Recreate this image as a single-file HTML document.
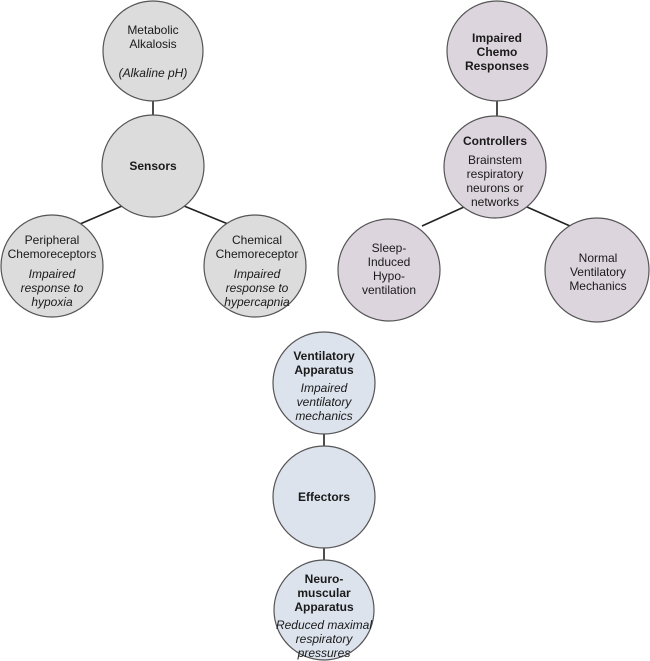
<!DOCTYPE html>
<html><head><meta charset="utf-8"><style>
html,body{margin:0;padding:0;background:#fff;}
svg{display:block;}
text{font-family:"Liberation Sans",sans-serif;font-size:12px;fill:#1a1a1a;text-anchor:middle;}
.b{font-weight:bold;}
.i{font-style:italic;}
</style></head><body>
<svg width="650" height="661" viewBox="0 0 650 661">
<g stroke="#222" stroke-width="1.6">
<line x1="153" y1="100" x2="153" y2="116"/>
<line x1="122" y1="206" x2="80" y2="224"/>
<line x1="184" y1="206" x2="228" y2="224"/>
<line x1="497" y1="100" x2="497" y2="116"/>
<line x1="464" y1="207" x2="422" y2="226"/>
<line x1="527" y1="207" x2="570" y2="226"/>
<line x1="324" y1="432" x2="324" y2="446"/>
<line x1="324" y1="547" x2="324" y2="561"/>
</g>
<g stroke="#555" stroke-width="1.2">
<circle cx="153" cy="51" r="50" fill="#dcdcdc"/>
<circle cx="153" cy="166" r="51" fill="#dcdcdc"/>
<circle cx="52" cy="266" r="51" fill="#dcdcdc"/>
<circle cx="255" cy="266" r="51" fill="#dcdcdc"/>
<circle cx="497" cy="51" r="50" fill="#ddd5de"/>
<circle cx="495" cy="167" r="51" fill="#ddd5de"/>
<circle cx="389" cy="270" r="51" fill="#ddd5de"/>
<circle cx="597" cy="270" r="52" fill="#ddd5de"/>
<circle cx="324" cy="383" r="51" fill="#dce3ed"/>
<circle cx="324" cy="497" r="51" fill="#dce3ed"/>
<circle cx="324" cy="610" r="50" fill="#dce3ed"/>
</g>
<text x="153" y="34">Metabolic</text>
<text x="153" y="48">Alkalosis</text>
<text x="153" y="77" class="i">(Alkaline pH)</text>
<text x="153" y="170" class="b">Sensors</text>
<text x="52" y="244">Peripheral</text>
<text x="52" y="258">Chemoreceptors</text>
<text x="52" y="278" class="i">Impaired</text>
<text x="52" y="292" class="i">response to</text>
<text x="52" y="306" class="i">hypoxia</text>
<text x="257" y="244">Chemical</text>
<text x="257" y="258">Chemoreceptor</text>
<text x="257" y="278" class="i">Impaired</text>
<text x="257" y="292" class="i">response to</text>
<text x="257" y="306" class="i">hypercapnia</text>
<text x="497" y="42" class="b">Impaired</text>
<text x="497" y="56" class="b">Chemo</text>
<text x="497" y="70" class="b">Responses</text>
<text x="495" y="145" class="b">Controllers</text>
<text x="495" y="164">Brainstem</text>
<text x="495" y="178">respiratory</text>
<text x="495" y="192">neurons or</text>
<text x="495" y="206">networks</text>
<text x="389" y="252">Sleep-</text>
<text x="389" y="266">Induced</text>
<text x="389" y="280">Hypo-</text>
<text x="389" y="294">ventilation</text>
<text x="598" y="262">Normal</text>
<text x="598" y="276">Ventilatory</text>
<text x="598" y="290">Mechanics</text>
<text x="324" y="360" class="b">Ventilatory</text>
<text x="324" y="374" class="b">Apparatus</text>
<text x="324" y="392" class="i">Impaired</text>
<text x="324" y="406" class="i">ventilatory</text>
<text x="324" y="420" class="i">mechanics</text>
<text x="324" y="501" class="b">Effectors</text>
<text x="324" y="583" class="b">Neuro-</text>
<text x="324" y="597" class="b">muscular</text>
<text x="324" y="611" class="b">Apparatus</text>
<text x="324" y="629" class="i">Reduced maximal</text>
<text x="324" y="643" class="i">respiratory</text>
<text x="324" y="657" class="i">pressures</text>
</svg>
</body></html>
